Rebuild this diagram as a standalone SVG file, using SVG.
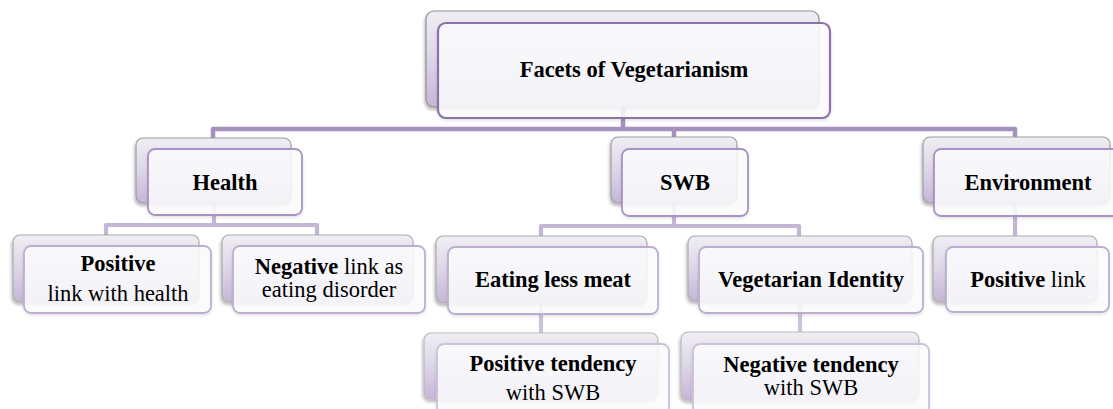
<svg xmlns="http://www.w3.org/2000/svg" width="1113" height="409" viewBox="0 0 1113 409">
  <defs>
    <linearGradient id="backFill" x1="0" y1="0" x2="0" y2="1">
      <stop offset="0" stop-color="#f0eef4"/>
      <stop offset="0.45" stop-color="#dfd8e9"/>
      <stop offset="1" stop-color="#c4b7d7"/>
    </linearGradient>
    <filter id="shadow" x="-10%" y="-10%" width="125%" height="130%">
      <feDropShadow dx="-1" dy="2.5" stdDeviation="1.8" flood-color="#000" flood-opacity="0.28"/>
    </filter>
    <filter id="softShadow" x="-10%" y="-10%" width="125%" height="130%">
      <feDropShadow dx="0" dy="1.5" stdDeviation="1.5" flood-color="#000" flood-opacity="0.12"/>
    </filter>
  </defs>
  <style>
    .back { fill: url(#backFill); stroke-width: 1.2; filter: url(#shadow); }
    .front { fill: #fdfdfe; fill-opacity: 0.86; stroke-width: 1.8; filter: url(#softShadow); }
    .b1 { stroke: #8f8f8f; }
    .b2 { stroke: #9d9d9d; }
    .b3 { stroke: #ababab; }
    .b4 { stroke: #bababa; }
    .f1 { stroke: #8b73aa; stroke-width: 2.2; }
    .f2 { stroke: #a792c2; }
    .f3 { stroke: #bcaed1; }
    .f4 { stroke: #cbc1da; }
    .link { fill: none; stroke-linejoin: round; stroke-linecap: butt; }
    .l1 { stroke: #a591be; stroke-width: 4.5; }
    .l2 { stroke: #c3b7d5; stroke-width: 4.2; }
    .l3 { stroke: #ccc3da; stroke-width: 4.2; }
    text { font-family: "Liberation Serif", "DejaVu Serif", "Times New Roman", serif; font-size: 22.5px; fill: #000; text-anchor: middle; }
    .bold { font-weight: bold; }
  </style>

  <!-- connectors, drawn beneath the boxes -->
  <g id="connectors">
    <path class="link l1" d="M623,107 V129"/>
    <path class="link l1" d="M213,138 V129 H1015 V137"/>
    <path class="link l1" d="M674,129 V137"/>

    <path class="link l2" d="M214,203 V225"/>
    <path class="link l2" d="M106,235 V225 H317 V235"/>
    <path class="link l2" d="M674,203 V226"/>
    <path class="link l2" d="M541,236 V226 H799 V236"/>
    <path class="link l2" d="M1015,203 V236"/>

    <path class="link l3" d="M541,303 V333"/>
    <path class="link l3" d="M800,301 V332"/>
  </g>

  <g id="node-facets">
    <rect class="back b1" x="426" y="11" width="393" height="96" rx="8"/>
    <rect class="front f1" x="438" y="23" width="392" height="95" rx="8"/>
    <text class="bold" x="634" y="77">Facets of Vegetarianism</text>
  </g>

  <g id="node-health">
    <rect class="back b2" x="136" y="138" width="155" height="65" rx="7"/>
    <rect class="front f2" x="148" y="149" width="154" height="66" rx="7"/>
    <text class="bold" x="225" y="190">Health</text>
  </g>

  <g id="node-swb">
    <rect class="back b2" x="611" y="137" width="126" height="66" rx="7"/>
    <rect class="front f2" x="622" y="149" width="126" height="67" rx="7"/>
    <text class="bold" x="685" y="190">SWB</text>
  </g>

  <g id="node-environment">
    <rect class="back b2" x="923" y="137" width="187" height="66" rx="7"/>
    <rect class="front f2" x="934" y="149" width="188" height="67" rx="7"/>
    <text class="bold" x="1028" y="190">Environment</text>
  </g>

  <g id="node-health-positive">
    <rect class="back b3" x="13" y="235" width="186" height="67" rx="7"/>
    <rect class="front f3" x="24" y="246" width="187" height="67" rx="7"/>
    <text class="bold" x="118" y="271">Positive</text>
    <text x="118" y="301">link with health</text>
  </g>

  <g id="node-health-negative">
    <rect class="back b3" x="222" y="235" width="191" height="67" rx="7"/>
    <rect class="front f3" x="233" y="246" width="192" height="67" rx="7"/>
    <text x="329" y="274"><tspan class="bold">Negative</tspan> link as</text>
    <text x="329" y="297">eating disorder</text>
  </g>

  <g id="node-eating-less-meat">
    <rect class="back b3" x="436" y="236" width="211" height="67" rx="7"/>
    <rect class="front f3" x="448" y="247" width="210" height="67" rx="7"/>
    <text class="bold" x="553" y="287">Eating less meat</text>
  </g>

  <g id="node-vegetarian-identity">
    <rect class="back b3" x="688" y="236" width="224" height="65" rx="7"/>
    <rect class="front f3" x="699" y="247" width="224" height="66" rx="7"/>
    <text class="bold" x="811" y="287">Vegetarian Identity</text>
  </g>

  <g id="node-environment-positive">
    <rect class="back b3" x="933" y="236" width="164" height="66" rx="7"/>
    <rect class="front f3" x="946" y="247" width="163" height="65" rx="7"/>
    <text x="1028" y="287"><tspan class="bold">Positive</tspan> link</text>
  </g>

  <g id="node-positive-tendency">
    <rect class="back b4" x="424" y="333" width="234" height="66" rx="7"/>
    <rect class="front f4" x="437" y="344" width="232" height="70" rx="7"/>
    <text class="bold" x="553" y="371">Positive tendency</text>
    <text x="553" y="400">with SWB</text>
  </g>

  <g id="node-negative-tendency">
    <rect class="back b4" x="681" y="332" width="238" height="68" rx="7"/>
    <rect class="front f4" x="693" y="344" width="236" height="70" rx="7"/>
    <text class="bold" x="811" y="372">Negative tendency</text>
    <text x="811" y="395">with SWB</text>
  </g>
</svg>
